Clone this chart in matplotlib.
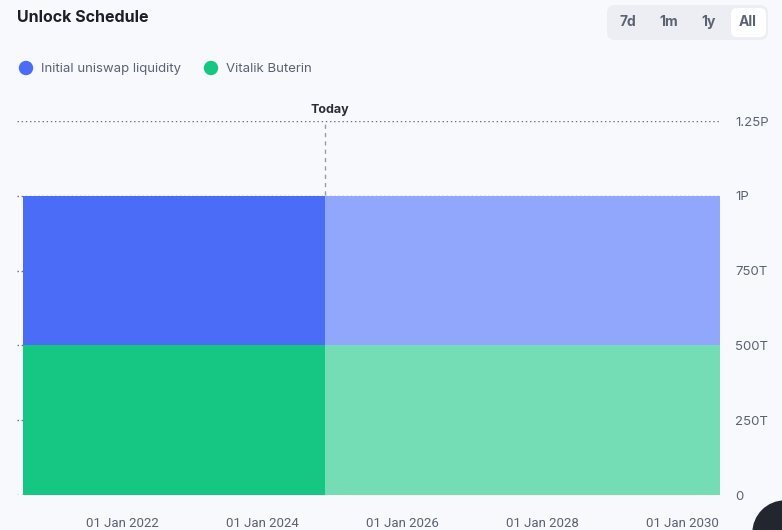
import matplotlib.pyplot as plt
import matplotlib.dates as mdates
import pandas as pd
from matplotlib.patches import FancyBboxPatch, Circle

# Data
series = ["Vitalik Buterin", "Initial uniswap liquidity"]
amounts = [500e12, 500e12]
start_date = "2020-08-01"
today_date = "2024-11-25"
end_date = "2030-07-17"
dark_colors = ["#16c784", "#4a6cf7"]
light_colors = ["#74ddb5", "#91a7fb"]
legend_order = ["Initial uniswap liquidity", "Vitalik Buterin"]
legend_colors = ["#4a6cf7", "#16c784"]
y_ticks = [0, 250e12, 500e12, 750e12, 1000e12, 1250e12]
y_labels = ["0", "250T", "500T", "750T", "1P", "1.25P"]
x_ticks = ["2022-01-01", "2024-01-01", "2026-01-01", "2028-01-01", "2030-01-01"]
buttons = ["7d", "1m", "1y", "All"]

bg = "#f8f9fd"
plt.rcParams["font.family"] = ["Inter", "DejaVu Sans"]

fig = plt.figure(figsize=(7.82, 5.30), dpi=100, facecolor=bg)
ax = fig.add_axes([17 / 782, 1 - 495 / 530, (720 - 17) / 782, (495 - 121) / 530])
ax.set_facecolor(bg)

d0, dt_, d1 = pd.to_datetime([start_date, today_date, end_date])

# stacked areas: past dark, future light
bottom = 0
for amt, dc, lc in zip(amounts, dark_colors, light_colors):
    ax.fill_between([d0, dt_], bottom, bottom + amt, color=dc, lw=0, zorder=2)
    ax.fill_between([dt_, d1], bottom, bottom + amt, color=lc, lw=0, zorder=2)
    bottom += amt

ax.axvline(dt_, color="#9a9ca3", ls=(0, (3, 3)), lw=1, zorder=1)
ax.text(dt_ + pd.Timedelta(days=25), 1.268e15, "Today", ha="center", va="bottom",
        fontsize=9, fontweight="bold", color="#2a2d35")

ax.set_xlim(pd.Timestamp("2020-07-01"), d1)
ax.set_ylim(0, 1.25e15)
ax.set_yticks(y_ticks)
ax.set_yticklabels(y_labels)
ax.yaxis.tick_right()
ax.set_xticks(pd.to_datetime(x_ticks))
ax.xaxis.set_major_formatter(mdates.DateFormatter("%d %b %Y"))
ax.grid(axis="y", ls=(0, (1, 2)), color="#6b6e76", lw=1, zorder=0)
ax.tick_params(axis="both", length=0, colors="#5b6272", labelsize=9.5)
ax.tick_params(axis="x", pad=16)
ax.tick_params(axis="y", pad=11)
for lbl in ax.get_xticklabels():
    lbl.set_family(["Roboto", "DejaVu Sans"])
for s in ax.spines.values():
    s.set_visible(False)
ax.set_axisbelow(True)

# header
fig.text(17 / 782, 1 - 17 / 530, "Unlock Schedule", fontsize=11.5, fontweight="bold",
         color="#1c1f26", va="center")
lx = [26, 211]
for x, name, c in zip(lx, legend_order, legend_colors):
    fig.patches.append(Circle((x, 530 - 68), 6.5, transform=None, color=c))
    fig.text((x + 15) / 782, 1 - 69 / 530, name, fontsize=9.5, color="#5b6272",
             va="center")

# range buttons
fig.patches.append(FancyBboxPatch((607, 530 - 40), 161, 35, boxstyle="round,pad=0,rounding_size=8",
                                  transform=None, fc="#eceef3", ec="none"))
fig.patches.append(FancyBboxPatch((731, 530 - 37), 35, 29, boxstyle="round,pad=0,rounding_size=6",
                                  transform=None, fc="white", ec="none"))
for x, b in zip([628, 669, 709, 748], buttons):
    fig.text(x / 782, 1 - 22 / 530, b, fontsize=10, fontweight="bold", color="#5b6272",
             ha="center", va="center")

# chat widget corner
fig.patches.append(Circle((785, -3), 32, transform=None, color="#23262e"))

fig.savefig("out.png", dpi=100, facecolor=bg)
